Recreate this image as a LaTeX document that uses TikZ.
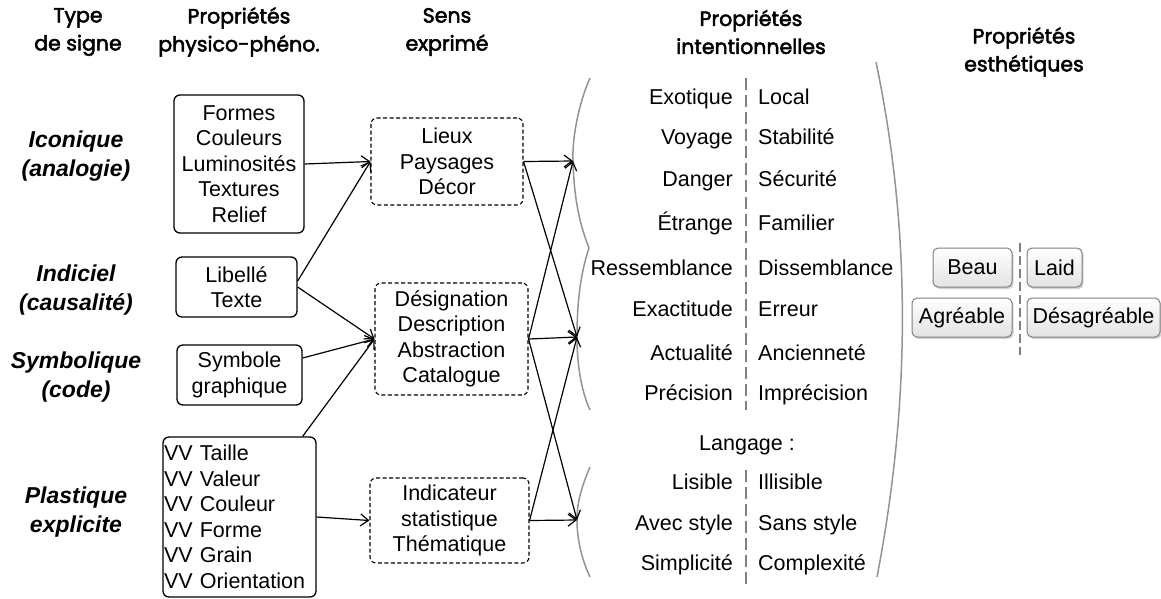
\documentclass[tikz,border=0pt]{standalone}
\usepackage{fontspec}
\setmainfont{Liberation Sans}
\newfontfamily\hdrfont{Poppins}[FakeBold=2.5]
\usetikzlibrary{arrows.meta,calc,shadows}
\begin{document}
\begin{tikzpicture}[x=1pt,y=-1pt,
  txt/.style={font=\fontsize{21.5}{25.5}\selectfont, inner sep=0pt},
  hdr/.style={font=\hdrfont\fontsize{20.5}{28}\selectfont, align=center, inner sep=0pt},
  lbl/.style={font=\fontsize{23}{29.5}\selectfont\bfseries\itshape, align=center, inner sep=0pt},
  solidbox/.style={txt, draw, line width=1.3pt, rounded corners=6pt, align=center},
  dashbox/.style={txt, draw, line width=1.1pt, dash pattern=on 4pt off 2.5pt, rounded corners=6pt, align=center},
  arr/.style={line width=1.2pt, -{Straight Barb[length=8pt,width=12pt]}},
  brk/.style={draw=gray!85, line width=1.5pt},
  sepline/.style={draw=gray, line width=1.3pt, dash pattern=on 12pt off 5pt},
  gbox/.style={txt, draw=gray, line width=1pt, rounded corners=5pt, top color=white, bottom color=gray!22,
     drop shadow={shadow xshift=1.5pt, shadow yshift=-2pt, opacity=0.35}},
  lw/.style={txt, anchor=base east},
  rw/.style={txt, anchor=base west},
]
\useasboundingbox (0,0) rectangle (1161,598);

% headers
\node[hdr] (h1) at (78,32) {Type\\de signe};
\node[hdr] (h2) at (239,32) {Propriétés\\physico-phéno.};
\node[hdr] (h3) at (447,32) {Sens\\exprimé};
\node[hdr] (h4) at (751,32) {Propriétés\\intentionnelles};
\node[hdr] (h5) at (1024,52) {Propriétés\\esthétiques};

% left labels
\node[lbl] (t1) at (76,156) {Iconique\\(analogie)};
\node[lbl] (t2) at (76,290) {Indiciel\\(causalité)};
\node[lbl] (t3) at (76,377) {Symbolique\\(code)};
\node[lbl] (t4) at (76,512) {Plastique\\explicite};

% column 2
\node[solidbox, minimum width=130pt, minimum height=138pt] (b1) at (239,164)
  {Formes\\Couleurs\\Luminosités\\Textures\\Relief};
\node[solidbox, minimum width=121pt, minimum height=60pt] (b2) at (236.5,287) {Libellé\\Texte};
\node[solidbox, minimum width=125pt, minimum height=60pt] (b3) at (239.5,375) {Symbole\\graphique};
\node[txt, draw, line width=1.3pt, rounded corners=6pt, text width=151pt, align=left,
  inner xsep=1pt, minimum height=160pt] (b4) at (239.5,517)
  {VV Taille\\VV Valeur\\VV Couleur\\VV Forme\\VV Grain\\VV Orientation};

% column 3
\node[dashbox, minimum width=152pt, minimum height=87pt] (s1) at (447,161.5) {Lieux\\Paysages\\Décor};
\node[dashbox, minimum width=153pt, minimum height=112pt] (s2) at (451.5,339)
  {Désignation\\Description\\Abstraction\\Catalogue};
\node[dashbox, minimum width=159pt, minimum height=85pt] (s3) at (449.5,520.5)
  {Indicateur\\statistique\\Thématique};

% brackets
\coordinate (A1) at (573,161);
\coordinate (A2) at (577,337);
\coordinate (A3) at (577,520);
\draw[brk] (590,78) .. controls (578,105) and (572,140) .. (A1)
  .. controls (574,200) and (580,225) .. (589,248)
  .. controls (581,272) and (577,300) .. (A2)
  .. controls (577,370) and (583,395) .. (590,410);
\draw[brk] (590,467) .. controls (580,490) and (577,505) .. (A3)
  .. controls (577,540) and (582,560) .. (590,577);
\draw[brk] (876,62) .. controls (911,230) and (911,400) .. (877,577);

% arrows col2 -> col3
\draw[arr] (b1.east) -- (s1.west);
\draw[arr] ($(b2.east)+(0,-6)$) -- (s1.west);
\draw[arr] (b2.east) -- (s2.west);
\draw[arr] ($(b3.east)+(0,-17)$) -- (s2.west);
\draw[arr] ($(b4.north east)+(-14,0)$) -- (s2.west);
\draw[arr] (b4.east) -- (s3.west);

% arrows col3 -> brackets
\draw[arr] (s1.east) -- (A1);
\draw[arr] (s1.east) -- (A2);
\draw[arr] (s2.east) -- (A1);
\draw[arr] (s2.east) -- (A2);
\draw[arr] (s2.east) -- (A3);
\draw[arr] (s3.east) -- (A2);
\draw[arr] (s3.east) -- (A3);

% intentional properties
\coordinate (d1a) at (746,78);
\coordinate (d1b) at (746,410);
\coordinate (d2a) at (746,470);
\coordinate (d2b) at (746,585);
\draw[sepline] (d1a) -- (d1b);
\draw[sepline] (d2a) -- (d2b);
\foreach \i/\y/\a/\b in {1/97/Exotique/Local, 2/137/Voyage/Stabilité, 3/179/Danger/Sécurité,
   4/223/Étrange/Familier, 5/268/Ressemblance/Dissemblance, 6/309/Exactitude/Erreur,
   7/353/Actualité/Ancienneté, 8/393/Précision/Imprécision, 9/482/Lisible/Illisible,
   10/523/Avec style/Sans style, 11/563/Simplicité/Complexité} {
  \node[lw] (l\i) at (733,\y+7.5) {\a};
  \node[rw] (r\i) at (758,\y+7.5) {\b};
}
\node[txt] (lang) at (747,445) {Langage :};

% aesthetic properties
\coordinate (e1) at (1020,243);
\coordinate (e2) at (1020,355);
\draw[sepline, dash pattern=on 9pt off 4pt] (e1) -- (e2);
\node[gbox, minimum width=79pt, minimum height=39pt] (beau) at (972.5,267.5) {Beau};
\node[gbox, minimum width=55pt, minimum height=39pt] (laid) at (1054.5,267.5) {Laid};
\node[gbox, minimum width=100pt, minimum height=39pt] (agr) at (962,317.5) {Agréable};
\node[gbox, minimum width=133pt, minimum height=39pt] (des) at (1093.5,317.5) {Désagréable};
\end{tikzpicture}
\end{document}
